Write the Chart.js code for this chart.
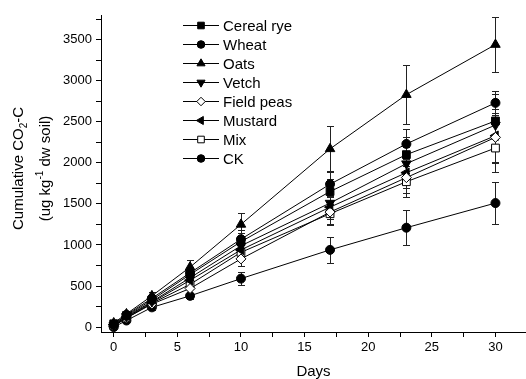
<!DOCTYPE html>
<html>
<head>
<meta charset="utf-8">
<script src="https://cdn.jsdelivr.net/npm/chart.js@4"></script>
<style>
  html, body { margin: 0; padding: 0; background: #fff; }
  #wrap { width: 526px; height: 379px; }
</style>
</head>
<body>
<div id="wrap"><canvas id="myChart"></canvas></div>
<script>
// days of incubation
var days = [0, 1, 3, 6, 10, 17, 23, 30];

// cumulative CO2-C, ug kg-1 dw soil
var cerealRye  = [40, 140, 330, 640, 1040, 1650, 2100, 2510];
var wheat      = [30, 150, 350, 660, 1070, 1740, 2230, 2730];
var oats       = [50, 160, 380, 730, 1250, 2170, 2830, 3440];
var vetch      = [20, 130, 310, 600, 990, 1510, 1990, 2460];
var fieldPeas  = [10, 110, 280, 470, 830, 1400, 1820, 2310];
var mustard    = [30, 120, 300, 570, 940, 1460, 1880, 2330];
var mix        = [20, 110, 290, 520, 910, 1380, 1770, 2180];
var ck         = [0, 80, 240, 380, 590, 940, 1210, 1510];

// standard errors
var cerealRyeErr = [20, 30, 40, 70, 100, 150, 220, 330];
var wheatErr     = [20, 30, 40, 70, 110, 160, 180, 150];
var oatsErr      = [20, 30, 50, 90, 140, 280, 360, 340];
var vetchErr     = [20, 30, 40, 60, 100, 150, 200, 320];
var fieldPeasErr = [20, 30, 40, 60, 90, 140, 190, 300];
var mustardErr   = [20, 30, 40, 60, 90, 140, 190, 330];
var mixErr       = [20, 30, 40, 60, 90, 140, 190, 290];
var ckErr        = [10, 20, 30, 40, 80, 160, 210, 260];

// axis ticks
var xMajor = [0, 5, 10, 15, 20, 25, 30];
var yMajor = [0, 500, 1000, 1500, 2000, 2500, 3000, 3500];

function pts(vals) {
  return days.map(function (d, i) { return { x: d, y: vals[i] }; });
}

function series(label, vals, errs, style, rot, fill, r) {
  return {
    label: label,
    data: pts(vals),
    errors: errs,
    showLine: true,
    borderColor: '#000',
    borderWidth: 1,
    pointStyle: style,
    rotation: rot,
    pointRadius: r,
    pointHoverRadius: r,
    pointBorderColor: '#000',
    pointBorderWidth: 1,
    pointBackgroundColor: fill,
    backgroundColor: fill
  };
}

var datasets = [
  series('Cereal rye', cerealRye, cerealRyeErr, 'rect', 0, '#000', 5.5),
  series('Wheat', wheat, wheatErr, 'circle', 0, '#000', 4.5),
  series('Oats', oats, oatsErr, 'triangle', 0, '#000', 5.5),
  series('Vetch', vetch, vetchErr, 'triangle', 180, '#000', 5.5),
  series('Field peas', fieldPeas, fieldPeasErr, 'rectRot', 0, '#fff', 5),
  series('Mustard', mustard, mustardErr, 'triangle', 270, '#000', 5.5),
  series('Mix', mix, mixErr, 'rect', 0, '#fff', 5.5),
  series('CK', ck, ckErr, 'circle', 0, '#000', 4.5)
];

// error bars under the markers
var errorBars = {
  id: 'errorBars',
  beforeDatasetsDraw: function (chart) {
    var ctx = chart.ctx, xs = chart.scales.x, ys = chart.scales.y;
    ctx.save();
    ctx.strokeStyle = '#222';
    ctx.lineWidth = 1;
    chart.data.datasets.forEach(function (ds) {
      ds.data.forEach(function (p, i) {
        var e = ds.errors[i];
        var px = Math.round(xs.getPixelForValue(p.x)) + 0.5;
        var t = Math.round(ys.getPixelForValue(p.y + e)) + 0.5;
        var b = Math.round(ys.getPixelForValue(p.y - e)) + 0.5;
        ctx.beginPath();
        ctx.moveTo(px, t); ctx.lineTo(px, b);
        ctx.moveTo(px - 3.5, t); ctx.lineTo(px + 3.5, t);
        ctx.moveTo(px - 3.5, b); ctx.lineTo(px + 3.5, b);
        ctx.stroke();
      });
    });
    ctx.restore();
  }
};

// legend inside the plot + y title with sub/superscripts
var extras = {
  id: 'extras',
  afterDraw: function (chart) {
    var ctx = chart.ctx, area = chart.chartArea;
    ctx.save();
    // legend
    var lx = area.left + 82, ly = area.top + 10;
    ctx.font = '15px "Liberation Sans", Arial, sans-serif';
    ctx.textBaseline = 'middle';
    chart.data.datasets.forEach(function (ds, i) {
      var y = Math.round(ly + i * 19.05) + 0.5;
      ctx.strokeStyle = '#000';
      ctx.lineWidth = 1;
      ctx.beginPath();
      ctx.moveTo(lx, y); ctx.lineTo(lx + 36, y);
      ctx.stroke();
      ctx.fillStyle = ds.pointBackgroundColor;
      Chart.helpers.drawPoint(ctx, {
        pointStyle: ds.pointStyle, rotation: ds.rotation,
        radius: ds.pointRadius * 0.85, borderWidth: 1
      }, lx + 18, y);
      ctx.fillStyle = '#000';
      ctx.textAlign = 'left';
      ctx.fillText(ds.label, lx + 40, y + 1);
    });

    // y axis title
    var cy = (area.top + area.bottom) / 2 - 5;
    var big = '15px "Liberation Sans", Arial, sans-serif';
    var small = '10px "Liberation Sans", Arial, sans-serif';
    function line(parts, x) {
      ctx.save();
      ctx.translate(x, cy);
      ctx.rotate(-Math.PI / 2);
      var w = 0;
      parts.forEach(function (p) { ctx.font = p[1] ? small : big; w += ctx.measureText(p[0]).width; });
      var cx = -w / 2;
      ctx.textAlign = 'left';
      ctx.textBaseline = 'middle';
      ctx.fillStyle = '#000';
      parts.forEach(function (p) {
        ctx.font = p[1] ? small : big;
        ctx.fillText(p[0], cx, p[1]);
        cx += ctx.measureText(p[0]).width;
      });
      ctx.restore();
    }
    line([['Cumulative CO', 0], ['2', 5], ['-C', 0]], 19);
    line([['(ug kg', 0], ['-1', -6], [' dw soil)', 0]], 46);
    ctx.restore();
  }
};

var tickFont = { family: '"Liberation Sans", Arial, sans-serif', size: 13 };

var ctx = document.getElementById('myChart').getContext('2d');
var myChart = new Chart(ctx, {
  type: 'scatter',
  data: { datasets: datasets },
  options: {
    responsive: true,
    maintainAspectRatio: false,
    animation: false,
    layout: { autoPadding: false, padding: { left: 62, top: 15, right: 0, bottom: 0 } },
    plugins: {
      legend: { display: false },
      tooltip: { enabled: false }
    },
    scales: {
      x: {
        type: 'linear',
        min: -1,
        max: 32.4,
        afterBuildTicks: function (scale) {
          var t = [];
          xMajor.forEach(function (v, i) {
            t.push({ value: v });
            if (i < xMajor.length - 1) t.push({ value: (v + xMajor[i + 1]) / 2 });
          });
          scale.ticks = t;
        },
        afterFit: function (scale) {
          scale.height = 47;
          scale.paddingRight = 0;
        },
        ticks: {
          color: '#000',
          font: tickFont,
          padding: 3,
          maxRotation: 0,
          autoSkip: false,
          callback: function (v) { return xMajor.indexOf(v) >= 0 ? v : ''; }
        },
        grid: { display: true, drawOnChartArea: false, drawTicks: true, tickLength: 5, tickColor: '#000' },
        border: { display: true, color: '#000', width: 1 },
        title: {
          display: true, text: 'Days', color: '#000',
          font: { family: '"Liberation Sans", Arial, sans-serif', size: 15 },
          padding: { top: 0, bottom: -2 }
        }
      },
      y: {
        min: -60,
        max: 3800,
        afterBuildTicks: function (scale) {
          var t = [];
          yMajor.forEach(function (v) {
            t.push({ value: v });
            t.push({ value: v + 250 });
          });
          scale.ticks = t;
        },
        afterFit: function (scale) { scale.width = 39; },
        ticks: {
          color: '#000',
          font: tickFont,
          padding: 4,
          autoSkip: false,
          callback: function (v) { return yMajor.indexOf(v) >= 0 ? v : ''; }
        },
        grid: { display: true, drawOnChartArea: false, drawTicks: true, tickLength: 5, tickColor: '#000' },
        border: { display: true, color: '#000', width: 1 }
      }
    }
  },
  plugins: [errorBars, extras]
});
</script>
</body>
</html>
